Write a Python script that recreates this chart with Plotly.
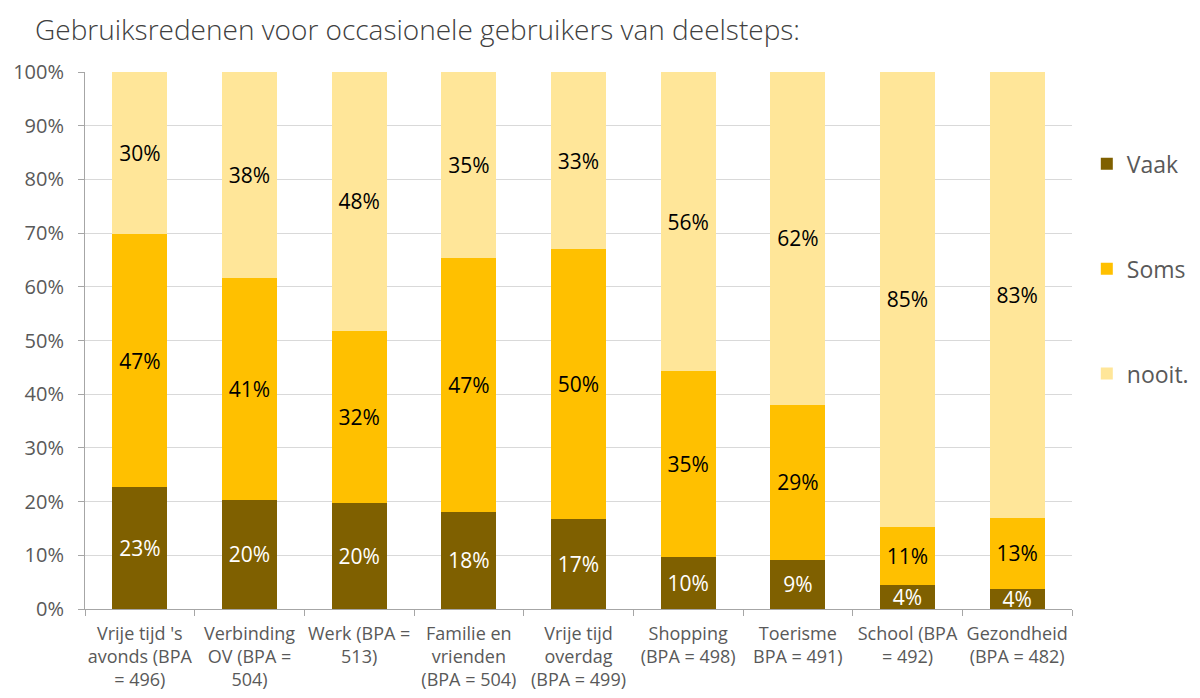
import plotly.graph_objects as go

categories = [
    "Vrije tijd 's<br>avonds (BPA<br>= 496)",
    "Verbinding<br>OV (BPA =<br>504)",
    "Werk (BPA =<br>513)",
    "Familie en<br>vrienden<br>(BPA = 504)",
    "Vrije tijd<br>overdag<br>(BPA = 499)",
    "Shopping<br>(BPA = 498)",
    "Toerisme<br>BPA = 491)",
    "School (BPA<br>= 492)",
    "Gezondheid<br>(BPA = 482)",
]
vaak = [22.7, 20.3, 19.8, 18.1, 16.7, 9.6, 9.2, 4.4, 3.8]
soms = [47.1, 41.4, 32.0, 47.2, 50.3, 34.7, 28.8, 10.9, 13.2]
nooit = [30.2, 38.3, 48.2, 34.7, 33.0, 55.7, 62.0, 84.7, 83.0]

series = [
    ("Vaak", vaak, "#7F6000", "white"),
    ("Soms", soms, "#FFC000", "black"),
    ("nooit.", nooit, "#FFE699", "black"),
]

FONT = "Open Sans"

fig = go.Figure()
for name, vals, color, txtcolor in series:
    fig.add_trace(go.Bar(
        x=categories,
        y=vals,
        name=name,
        legendgroup=name,
        marker=dict(color=color, line=dict(width=0)),
        texttemplate="%{y:.0f}%",
        textposition="inside",
        insidetextanchor="middle",
        constraintext="none",
        textangle=0,
        textfont=dict(family=FONT, size=21, color=txtcolor),
    ))

# the page body has an 8px margin, so everything is shifted by that amount
fig.update_layout(
    barmode="stack",
    bargap=0.5,
    width=1200,
    height=698,
    margin=dict(l=77, r=136, t=64, b=97),
    paper_bgcolor="white",
    plot_bgcolor="white",
    font=dict(family=FONT, color="#595959"),
    title=dict(
        text="Gebruiksredenen voor occasionele gebruikers van deelsteps:",
        x=0.0225, xanchor="left", y=0.968, yanchor="middle",
        font=dict(family=FONT, size=28, color="#404040", weight=300),
    ),
    legend=dict(
        x=1.015, xanchor="left", y=0.869, yanchor="top",
        traceorder="grouped",
        tracegroupgap=72,
        font=dict(family=FONT, size=23, color="#595959"),
        itemwidth=30,
    ),
    xaxis=dict(
        automargin=False,
        tickangle=0,
        showline=True, linecolor="#A6A6A6", linewidth=1,
        ticks="outside", tickson="boundaries", ticklen=6, tickcolor="#A6A6A6",
        ticklabelstandoff=8,
        tickfont=dict(family=FONT, size=18, color="#595959"),
    ),
    yaxis=dict(
        automargin=False,
        range=[0, 100], dtick=10, ticksuffix="%",
        showline=True, linecolor="#A6A6A6", linewidth=1,
        ticks="outside", ticklen=6, tickcolor="#A6A6A6",
        ticklabelstandoff=10,
        gridcolor="#D9D9D9", gridwidth=1,
        tickfont=dict(family=FONT, size=20, color="#595959"),
        zeroline=False,
    ),
)

fig.write_html("out.html")
